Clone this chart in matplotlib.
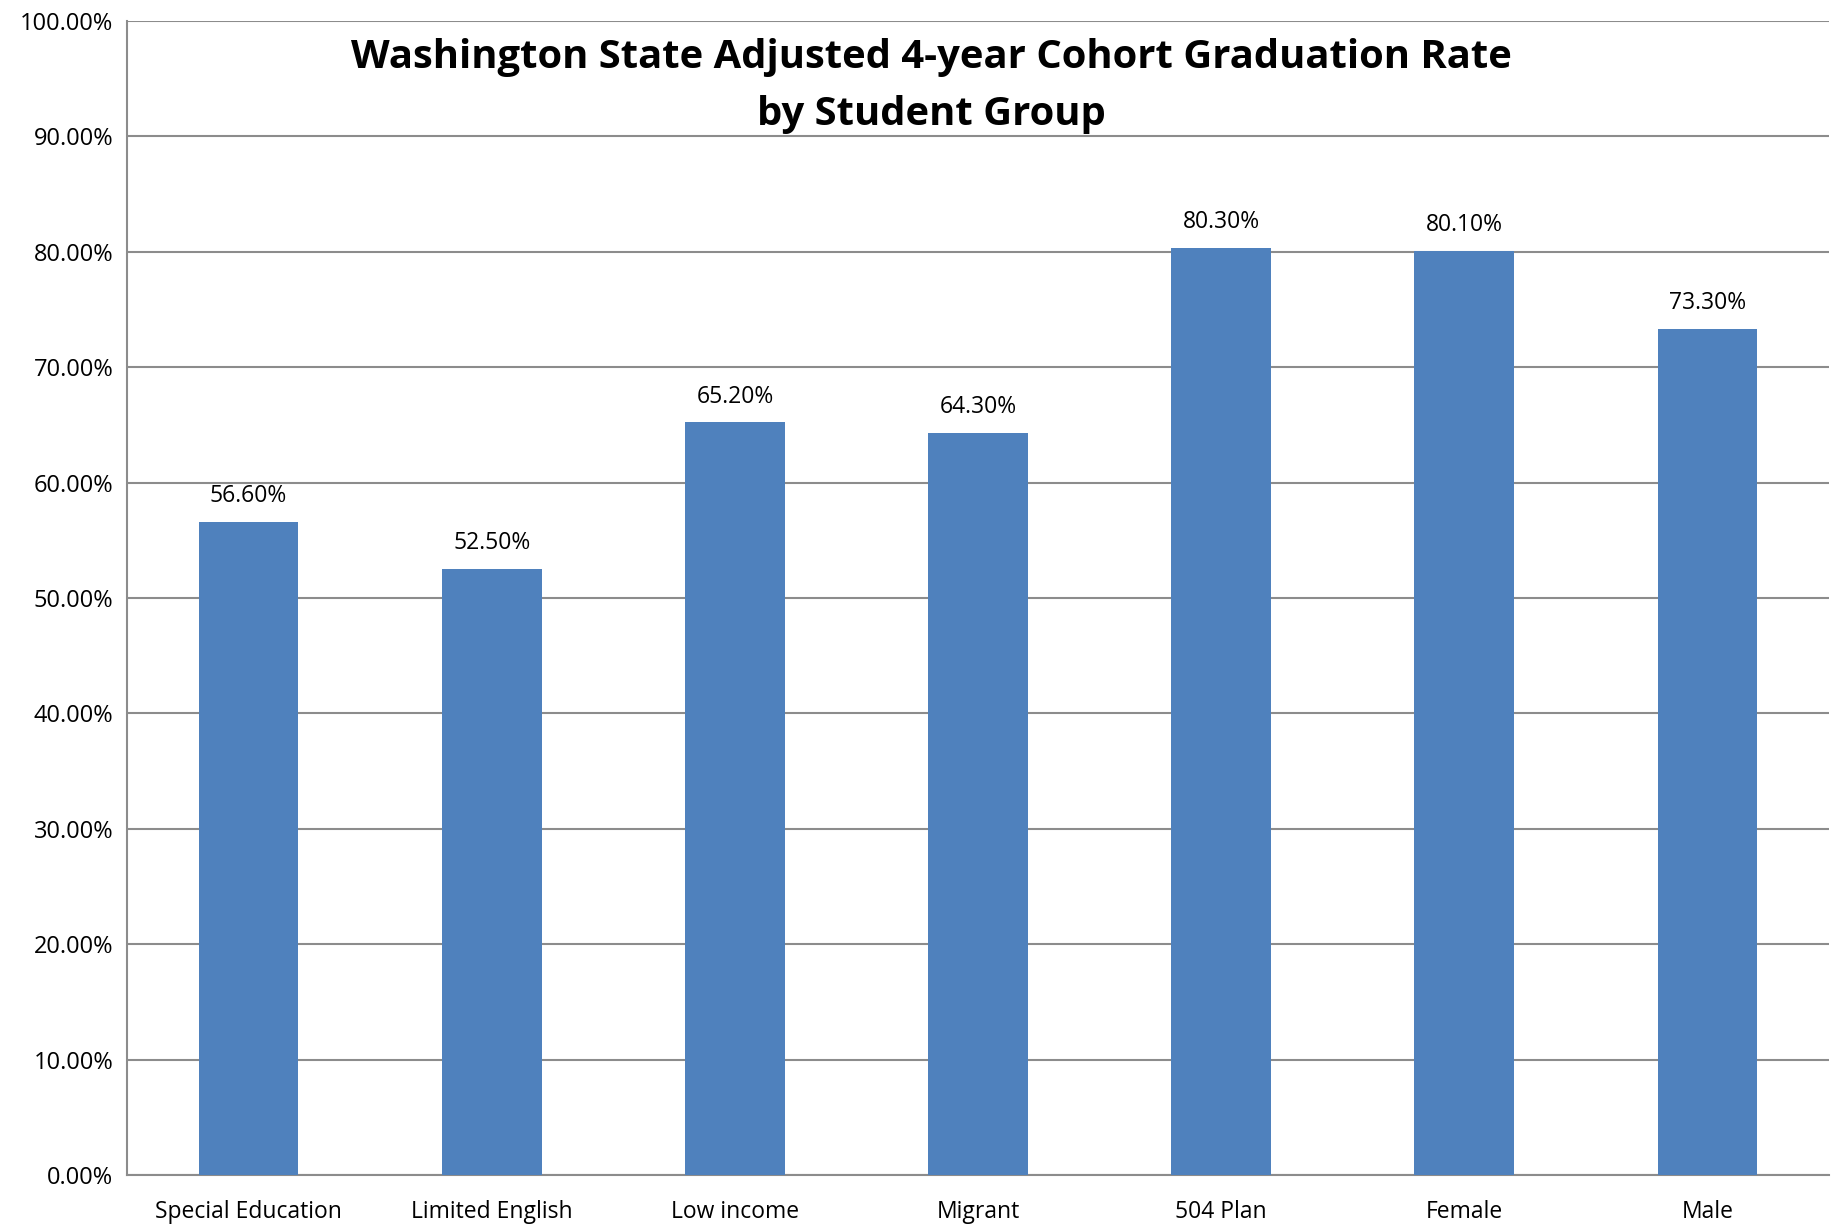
import matplotlib.pyplot as plt
import numpy as np

plt.rcParams['font.family'] = ['Open Sans', 'DejaVu Sans']

# data
groups = ['Special Education', 'Limited English', 'Low income', 'Migrant',
          '504 Plan', 'Female', 'Male']
rates = [56.6, 52.5, 65.2, 64.3, 80.3, 80.1, 73.3]
yticks = np.arange(0, 101, 10)

fig = plt.figure(figsize=(18.41, 12.25), dpi=100)
ax = fig.add_axes([0.069, 0.0408, 0.9245, 0.9422])

x = np.arange(len(groups))
ax.bar(x, rates, width=0.41, color='#4F81BD', zorder=3)

for xi, r in zip(x, rates):
    ax.text(xi, r + 1.2, '%.2f%%' % r, ha='center', va='bottom', fontsize=16.5)

ax.set_xlim(-0.5, len(groups) - 0.5)
ax.set_ylim(0, 100)
ax.set_yticks(yticks)
ax.set_yticklabels(['%.2f%%' % t for t in yticks], fontsize=17)
ax.set_xticks(x)
ax.set_xticklabels(groups, fontsize=16.5)
ax.tick_params(axis='both', length=0, pad=10)
ax.tick_params(axis='x', pad=18)

ax.grid(axis='y', color='#8c8c8c', linewidth=1.5, zorder=0)
for side in ['top', 'right']:
    ax.spines[side].set_visible(False)
for side in ['left', 'bottom']:
    ax.spines[side].set_color('#8c8c8c')
    ax.spines[side].set_linewidth(1.5)

fig.text(0.506, 0.93, 'Washington State Adjusted 4-year Cohort Graduation Rate\nby Student Group',
         ha='center', va='center', fontsize=28.8, fontweight='bold', linespacing=1.6)

fig.savefig('out.png', dpi=100)
